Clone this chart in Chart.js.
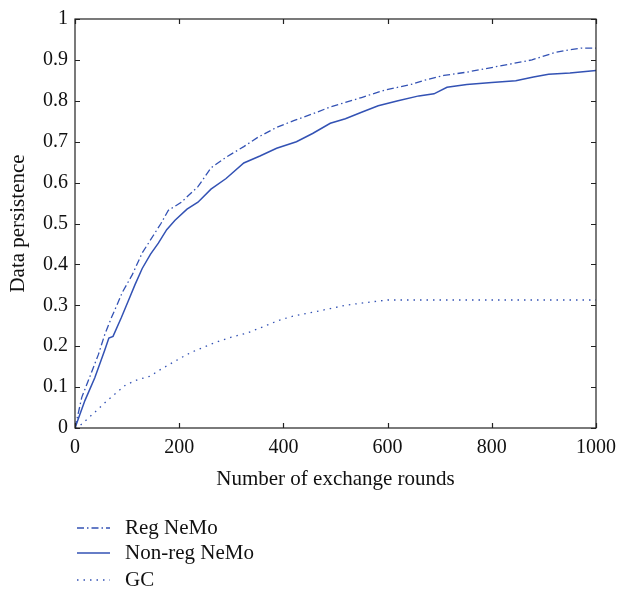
<!DOCTYPE html>
<html>
<head>
<meta charset="utf-8">
<script src="https://cdn.jsdelivr.net/npm/chart.js@4/dist/chart.umd.min.js"></script>
<style>
  html, body { margin: 0; padding: 0; background: #fff; }
  #wrap { width: 624px; height: 596px; }
</style>
</head>
<body>
<div id="wrap"><canvas id="persist" width="624" height="596"></canvas></div>
<script>
// exchange rounds / persistence readings per protocol
var regRounds = [0, 13, 29, 45, 57, 70, 82, 91, 110, 129, 150, 165, 179, 204, 236, 261, 290, 324, 350, 387, 421, 456, 490, 519, 550, 594, 645, 670, 708, 752, 815, 877, 921, 950, 972, 1000];
var regValues = [0, 0.075, 0.127, 0.18, 0.228, 0.27, 0.305, 0.332, 0.375, 0.428, 0.47, 0.5, 0.532, 0.552, 0.59, 0.636, 0.662, 0.688, 0.71, 0.735, 0.752, 0.768, 0.785, 0.796, 0.808, 0.826, 0.84, 0.85, 0.862, 0.87, 0.885, 0.9, 0.918, 0.925, 0.929, 0.929];

var nonRegRounds = [0, 19, 38, 57, 65, 73, 89, 104, 115, 129, 145, 160, 176, 192, 215, 236, 261, 290, 324, 355, 387, 425, 456, 490, 519, 550, 582, 620, 660, 689, 714, 752, 800, 846, 880, 909, 950, 1000];
var nonRegValues = [0, 0.067, 0.123, 0.19, 0.22, 0.224, 0.27, 0.316, 0.35, 0.39, 0.425, 0.452, 0.485, 0.508, 0.535, 0.552, 0.584, 0.61, 0.648, 0.665, 0.684, 0.7, 0.72, 0.745, 0.756, 0.772, 0.788, 0.8, 0.812, 0.817, 0.833, 0.84, 0.845, 0.849, 0.858, 0.865, 0.868, 0.874];

var gcRounds = [0, 7, 35, 60, 97, 120, 145, 160, 204, 223, 267, 300, 330, 360, 393, 420, 456, 490, 519, 560, 600, 1000];
var gcValues = [0, 0.003, 0.035, 0.065, 0.105, 0.118, 0.127, 0.14, 0.172, 0.185, 0.208, 0.222, 0.232, 0.247, 0.264, 0.274, 0.283, 0.292, 0.3, 0.307, 0.313, 0.313];

var seriesNames = ["Reg NeMo", "Non-reg NeMo", "GC"];
var xTicks = [0, 200, 400, 600, 800, 1000];

var lineColor = "#3352b4";
var serif = "'Liberation Serif', 'DejaVu Serif', serif";

function toPoints(xs, ys) {
    return xs.map(function (x, i) { return { x: x, y: ys[i] }; });
}

// plain numbers: 0, 0.1 ... 1 and 1000 (no grouping, no trailing zeros)
function plainLabel(v) {
    return String(Math.round(v * 10) / 10);
}

// box around the plot with inward ticks on all four sides
var frameTicks = {
    id: "frameTicks",
    afterDraw: function (chart) {
        var ctx = chart.ctx;
        var a = chart.chartArea;
        var xs = chart.scales.x, ys = chart.scales.y;
        var len = 5;
        ctx.save();
        ctx.strokeStyle = "#222";
        ctx.lineWidth = 1.2;
        ctx.strokeRect(a.left, a.top, a.right - a.left, a.bottom - a.top);
        ctx.beginPath();
        xs.ticks.forEach(function (t) {
            var px = Math.round(xs.getPixelForValue(t.value)) + 0.5;
            ctx.moveTo(px, a.bottom); ctx.lineTo(px, a.bottom - len);
            ctx.moveTo(px, a.top); ctx.lineTo(px, a.top + len);
        });
        ys.ticks.forEach(function (t) {
            var py = Math.round(ys.getPixelForValue(t.value)) + 0.5;
            ctx.moveTo(a.left, py); ctx.lineTo(a.left + len, py);
            ctx.moveTo(a.right, py); ctx.lineTo(a.right - len, py);
        });
        ctx.stroke();
        ctx.restore();
    }
};

// legend below the axis title, one row per dataset
var lowerLegend = {
    id: "lowerLegend",
    afterDraw: function (chart) {
        var ctx = chart.ctx;
        var x0 = 77, x1 = 110, tx = 125;
        var rows = [528, 553, 580];
        ctx.save();
        ctx.font = "21px " + serif;
        ctx.textBaseline = "middle";
        chart.data.datasets.forEach(function (ds, i) {
            ctx.strokeStyle = ds.borderColor;
            ctx.lineWidth = ds.borderWidth;
            ctx.setLineDash(ds.borderDash || []);
            ctx.beginPath();
            ctx.moveTo(x0, rows[i]);
            ctx.lineTo(x1, rows[i]);
            ctx.stroke();
            ctx.setLineDash([]);
            ctx.fillStyle = "#111";
            ctx.fillText(ds.label, tx, rows[i]);
        });
        ctx.restore();
    }
};

var whiteBg = {
    id: "whiteBg",
    beforeDraw: function (chart) {
        var ctx = chart.ctx;
        ctx.save();
        ctx.fillStyle = "#fff";
        ctx.fillRect(0, 0, chart.width, chart.height);
        ctx.restore();
    }
};

new Chart(document.getElementById("persist"), {
    type: "line",
    data: {
        datasets: [
            {
                label: seriesNames[0],
                data: toPoints(regRounds, regValues),
                borderColor: lineColor,
                borderWidth: 1.3,
                borderDash: [7, 3, 1.5, 3]
            },
            {
                label: seriesNames[1],
                data: toPoints(nonRegRounds, nonRegValues),
                borderColor: lineColor,
                borderWidth: 1.5
            },
            {
                label: seriesNames[2],
                data: toPoints(gcRounds, gcValues),
                borderColor: lineColor,
                borderWidth: 1.3,
                borderDash: [1.5, 5]
            }
        ]
    },
    options: {
        responsive: false,
        animation: false,
        layout: { padding: { top: 12, right: 19, bottom: 104, left: 0 } },
        elements: { point: { radius: 0 }, line: { tension: 0 } },
        plugins: { legend: { display: false }, tooltip: { enabled: false } },
        scales: {
            x: {
                type: "linear",
                min: 0,
                max: 1000,
                afterBuildTicks: function (scale) {
                    scale.ticks = xTicks.map(function (v) { return { value: v }; });
                },
                afterFit: function (scale) { scale.height = 64; },
                grid: { display: false, drawTicks: false },
                border: { display: false },
                ticks: {
                    color: "#111", padding: 8, maxRotation: 0,
                    font: { family: serif, size: 20 },
                    callback: plainLabel
                },
                title: {
                    display: true,
                    text: "Number of exchange rounds",
                    color: "#111",
                    padding: 0,
                    font: { family: serif, size: 21 }
                }
            },
            y: {
                min: 0,
                max: 1,
                ticks: {
                    stepSize: 0.1, color: "#111", padding: 7,
                    font: { family: serif, size: 20 },
                    callback: plainLabel
                },
                afterFit: function (scale) { scale.width = 75; },
                grid: { display: false, drawTicks: false },
                border: { display: false },
                title: {
                    display: true,
                    text: "Data persistence",
                    color: "#111",
                    padding: { top: 6, bottom: 6 },
                    font: { family: serif, size: 21 }
                }
            }
        }
    },
    plugins: [whiteBg, frameTicks, lowerLegend]
});
</script>
</body>
</html>
